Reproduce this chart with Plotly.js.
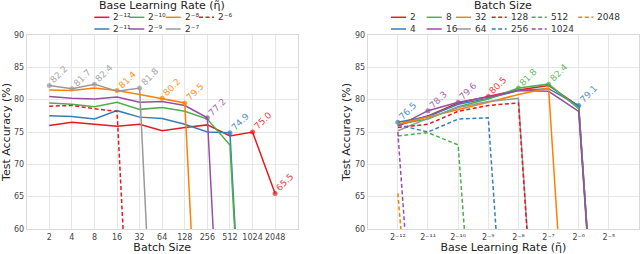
<!DOCTYPE html>
<html><head><meta charset="utf-8">
<script src="https://cdn.plot.ly/plotly-3.0.1.min.js"></script>
<style>html,body{margin:0;padding:0;background:#fff}#chart{width:640px;height:254px}</style>
</head><body><div id="chart"></div>
<script>
// ---------- categories / tick labels ----------
const batchSizes  = [2, 4, 8, 16, 32, 64, 128, 256, 512, 1024, 2048];
const batchLabels = ['2', '4', '8', '16', '32', '64', '128', '256', '512', '1024', '2048'];
const lrValues    = [Math.pow(2,-12), Math.pow(2,-11), Math.pow(2,-10), Math.pow(2,-9), Math.pow(2,-8), Math.pow(2,-7), Math.pow(2,-6), Math.pow(2,-5)];
const lrLabels    = ['2⁻¹²', '2⁻¹¹', '2⁻¹⁰', '2⁻⁹', '2⁻⁸', '2⁻⁷', '2⁻⁶', '2⁻⁵'];

// ---------- left panel: accuracy vs batch size, one line per base LR ----------
// (10 = diverged run, plotted below the visible range)
const accLr12 = [76.0, 76.5, 76.2, 75.9, 76.2, 75.2, 75.7, 76.1, 74.4, 75.0, 65.5];
const accLr11 = [77.5, 77.4, 77.0, 78.3, 77.3, 77.1, 76.2, 75.0, 74.9, 10, null];
const accLr10 = [79.5, 79.3, 78.9, 79.6, 78.5, 78.8, 78.2, 77.0, 73.0, 10, null];
const accLr9  = [80.5, 80.2, 80.1, 80.4, 79.6, 79.7, 79.1, 77.2, 10, null, null];
const accLr8  = [81.5, 81.4, 81.8, 81.4, 80.8, 80.2, 79.5, 10, null, null, null];
const accLr7  = [82.2, 81.7, 82.4, 81.3, 81.8, 10, null, null, null, null, null];
const accLr6  = [79.0, 79.1, 78.6, 78.2, 10, null, null, null, null, null, null];

// ---------- right panel: accuracy vs base LR, one line per batch size ----------
const accB2    = [76.0, 77.5, 79.5, 80.5, 81.5, 82.2, 79.0, 10];
const accB4    = [76.5, 77.4, 79.3, 80.2, 81.4, 81.7, 79.1, 10];
const accB8    = [76.2, 77.0, 78.9, 80.1, 81.8, 82.4, 78.6, 10];
const accB16   = [75.9, 78.3, 79.6, 80.4, 81.4, 81.3, 78.2, 10];
const accB32   = [76.2, 77.3, 78.5, 79.6, 80.8, 81.8, 10, null];
const accB64   = [75.2, 77.1, 78.8, 79.7, 80.2, 10, null, null];
const accB128  = [75.7, 76.2, 78.2, 79.1, 79.5, 10, null, null];
const accB256  = [76.1, 75.0, 77.0, 77.2, 10, null, null, null];
const accB512  = [74.4, 74.9, 73.0, 10, null, null, null, null];
const accB1024 = [75.0, 10, null, null, null, null, null, null];
const accB2048 = [65.5, 10, null, null, null, null, null, null];

// ---------- styles ----------
const RED = '#e41a1c', BLUE = '#377eb8', GREEN = '#4daf4a', PURPLE = '#984ea3', ORANGE = '#ff7f00', GRAY = '#999999';
const DASH = '4px,2.5px';

const leftSeries = [
  {name: '2⁻¹²', y: accLr12, color: RED,    dash: 'solid'},
  {name: '2⁻¹¹', y: accLr11, color: BLUE,   dash: 'solid'},
  {name: '2⁻¹⁰', y: accLr10, color: GREEN,  dash: 'solid'},
  {name: '2⁻⁹',  y: accLr9,  color: PURPLE, dash: 'solid'},
  {name: '2⁻⁸',  y: accLr8,  color: ORANGE, dash: 'solid'},
  {name: '2⁻⁷',  y: accLr7,  color: GRAY,   dash: 'solid'},
  {name: '2⁻⁶',  y: accLr6,  color: RED,    dash: DASH}
];
const rightSeries = [
  {name: '2',    y: accB2,    color: RED,    dash: 'solid'},
  {name: '4',    y: accB4,    color: BLUE,   dash: 'solid'},
  {name: '8',    y: accB8,    color: GREEN,  dash: 'solid'},
  {name: '16',   y: accB16,   color: PURPLE, dash: 'solid'},
  {name: '32',   y: accB32,   color: ORANGE, dash: 'solid'},
  {name: '64',   y: accB64,   color: GRAY,   dash: 'solid'},
  {name: '128',  y: accB128,  color: RED,    dash: DASH},
  {name: '256',  y: accB256,  color: BLUE,   dash: DASH},
  {name: '512',  y: accB512,  color: GREEN,  dash: DASH},
  {name: '1024', y: accB1024, color: PURPLE, dash: DASH},
  {name: '2048', y: accB2048, color: ORANGE, dash: DASH}
];

// legend layout (pixel positions of columns/rows)
const leftLegendCols  = [94.3, 129.3, 165.7, 199];
const rightLegendCols = [391, 426.7, 456, 491.7, 531.7, 578.3];
const legendRows = [17.3, 29];
const W = 640, H = 254;

// ---------- build traces ----------
function bestIndex(seriesList, j) {
  let best = -1, bv = -Infinity;
  seriesList.forEach((s, i) => { const v = s.y[j]; if (v != null && v > bv) { bv = v; best = i; } });
  return bv >= 60 ? best : -1;
}

const traces = [];
const annotations = [];
const shapes = [];

function addPanel(seriesList, xs, xa, ya) {
  const n = xs.length;
  const bestOf = [];
  for (let j = 0; j < n; j++) bestOf.push(bestIndex(seriesList, j));
  seriesList.forEach((s, i) => {
    const sizes = xs.map((_, j) => bestOf[j] === i ? 5 : 0);
    traces.push({
      type: 'scatter', mode: 'lines+markers', x: xs, y: s.y, name: s.name,
      xaxis: xa, yaxis: ya, connectgaps: false, showlegend: false, hoverinfo: 'skip',
      line: {color: s.color, width: 1.5, dash: s.dash},
      marker: {color: s.color, size: sizes, line: {width: 0}}
    });
  });
  for (let j = 0; j < n; j++) {
    const i = bestOf[j];
    if (i < 0) continue;
    const s = seriesList[i];
    annotations.push({
      xref: xa, yref: ya, x: Math.log10(xs[j]), y: s.y[j], text: s.y[j].toFixed(1),
      showarrow: false, textangle: -45, xanchor: 'left', yanchor: 'bottom',
      xshift: -2, yshift: -1, borderpad: 0,
      font: {size: 9, color: s.color}, opacity: 0.85
    });
  }
}
addPanel(leftSeries, batchSizes, 'x', 'y');
addPanel(rightSeries, lrValues, 'x2', 'y2');

// ---------- manual legends ----------
function addLegend(seriesList, cols, nrows) {
  seriesList.forEach((s, k) => {
    const c = Math.floor(k / nrows), r = k % nrows;
    const x0 = cols[c], yy = legendRows[r];
    shapes.push({
      type: 'line', xref: 'paper', yref: 'paper',
      x0: x0 / W, x1: (x0 + 15) / W, y0: (H - yy) / H, y1: (H - yy) / H,
      line: {color: s.color, width: 1.5, dash: s.dash}
    });
    annotations.push({
      xref: 'paper', yref: 'paper', x: (x0 + 18) / W, y: (H - yy) / H,
      xanchor: 'left', yanchor: 'middle', showarrow: false, text: s.name,
      font: {size: 9, color: '#333'}, borderpad: 0
    });
  });
}
addLegend(leftSeries, leftLegendCols, 2);
addLegend(rightSeries, rightLegendCols, 2);

annotations.push({xref: 'paper', yref: 'paper', x: 162 / W, y: (H - 6) / H, xanchor: 'center', yanchor: 'middle',
  showarrow: false, text: 'Base Learning Rate (η̃)', font: {size: 11, color: '#222'}});
annotations.push({xref: 'paper', yref: 'paper', x: 503 / W, y: (H - 6) / H, xanchor: 'center', yanchor: 'middle',
  showarrow: false, text: 'Batch Size', font: {size: 11, color: '#222'}});

// ---------- axes ----------
const GRID = '#e6e6e6', LINE = '#d9d9d9', TICKC = '#444';
const yDomain = [25 / H, 219 / H];
function yAxis(anchor) {
  return {
    domain: yDomain, anchor: anchor, range: [60, 90], dtick: 5, tick0: 60,
    showgrid: true, gridcolor: GRID, gridwidth: 1, zeroline: false,
    showline: true, mirror: true, linecolor: LINE, linewidth: 1, ticks: '',
    tickfont: {size: 8, color: TICKC},
    title: {text: 'Test Accuracy (%)', font: {size: 11, color: '#222'}, standoff: 2}
  };
}
function xAxis(anchor, domain, range, tv, tt, title) {
  return {
    domain: domain, anchor: anchor, type: 'log', range: range,
    tickmode: 'array', tickvals: tv, ticktext: tt, tickangle: 0,
    showgrid: true, gridcolor: GRID, gridwidth: 1, zeroline: false,
    showline: true, mirror: true, linecolor: LINE, linewidth: 1, ticks: '',
    tickfont: {size: 8, color: TICKC},
    title: {text: title, font: {size: 11, color: '#222'}, standoff: 2}
  };
}

const layout = {
  width: W, height: H, margin: {l: 0, r: 0, t: 0, b: 0},
  paper_bgcolor: '#fff', plot_bgcolor: '#fff', showlegend: false,
  font: {family: 'DejaVu Sans, sans-serif', size: 8, color: '#333'},
  xaxis:  xAxis('y',  [26.7 / W, 297.7 / W], [0, Math.log10(4096)], batchSizes, batchLabels, 'Batch Size'),
  yaxis:  yAxis('x'),
  xaxis2: xAxis('y2', [367.7 / W, 639 / W], [Math.log10(Math.pow(2,-13)), Math.log10(Math.pow(2,-4))], lrValues, lrLabels, 'Base Learning Rate (η̃)'),
  yaxis2: yAxis('x2'),
  annotations: annotations, shapes: shapes
};

Plotly.newPlot('chart', traces, layout, {displayModeBar: false, staticPlot: true});
</script></body></html>
